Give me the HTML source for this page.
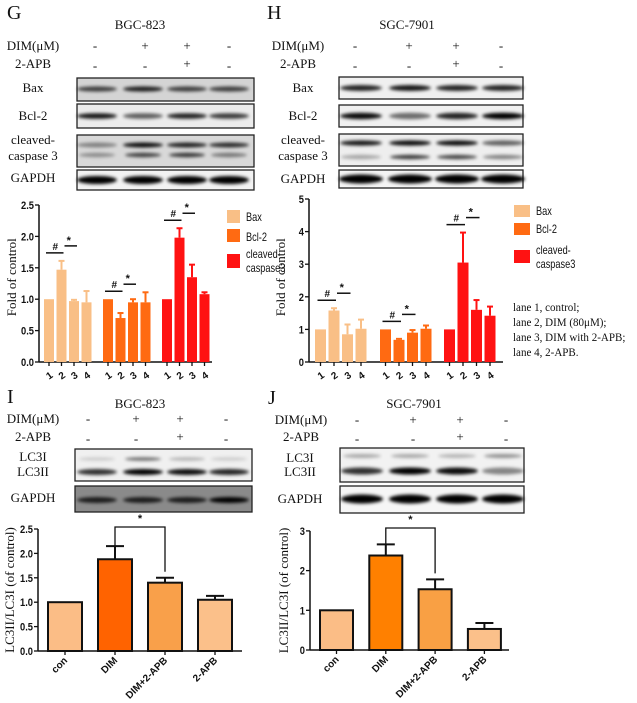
<!DOCTYPE html>
<html><head><meta charset="utf-8">
<style>
html,body{margin:0;padding:0;background:#fff;}
svg{display:block;}
.serif{font-family:"Liberation Serif",serif;}
.sans{font-family:"Liberation Sans",sans-serif;}
</style></head>
<body>
<svg id="fig" width="637" height="703" viewBox="0 0 637 703" xmlns="http://www.w3.org/2000/svg">
<defs>
<filter id="blur" x="-20%" y="-100%" width="140%" height="300%"><feGaussianBlur stdDeviation="1.6"/></filter>
</defs>
</svg>
<script>
// ---------- Chart G (BGC-823) ----------
const gLanes = ["1","2","3","4"];
const gSeries = ["Bax","Bcl-2","cleaved-caspase3"];
const gBax = [1.0, 1.47, 0.97, 0.95];
const gBaxErr = [0, 0.14, 0.02, 0.18];
const gBcl2 = [1.0, 0.70, 0.95, 0.95];
const gBcl2Err = [0, 0.08, 0.05, 0.16];
const gCasp = [1.0, 1.98, 1.35, 1.08];
const gCaspErr = [0, 0.15, 0.20, 0.03];
const gTicks = ["0.0","0.5","1.0","1.5","2.0","2.5"];
// ---------- Chart H (SGC-7901) ----------
const hBax = [1.0, 1.58, 0.85, 1.02];
const hBaxErr = [0, 0.07, 0.30, 0.28];
const hBcl2 = [1.0, 0.68, 0.90, 1.02];
const hBcl2Err = [0, 0.03, 0.08, 0.10];
const hCasp = [1.0, 3.05, 1.60, 1.42];
const hCaspErr = [0, 0.92, 0.30, 0.28];
const hTicks = ["0","1","2","3","4","5"];
// ---------- Chart I / J ----------
const lcCategories = ["con","DIM","DIM+2-APB","2-APB"];
const iValues = [1.0, 1.88, 1.40, 1.05];
const iErr = [0, 0.27, 0.10, 0.08];
const iTicks = ["0.0","0.5","1.0","1.5","2.0","2.5"];
const jValues = [1.0, 2.38, 1.53, 0.53];
const jErr = [0, 0.28, 0.25, 0.15];
const jTicks = ["0","1","2","3"];

const svg = document.getElementById('fig');
const NS = "http://www.w3.org/2000/svg";
function mk(tag, attrs, parent){
  const e = document.createElementNS(NS, tag);
  for (const k in attrs) e.setAttribute(k, attrs[k]);
  (parent||svg).appendChild(e);
  return e;
}
function txt(x,y,s,size,cls,anchor,extra){
  const t = mk('text',{x:x,y:y,'font-size':size,'class':cls,'text-anchor':anchor||'middle',fill:'#111'});
  if(extra) for(const k in extra) t.setAttribute(k,extra[k]);
  t.textContent = s;
  return t;
}

function header(letter, lx, ly, title, tx, ty, labX, dimY, apbY, lanes, dimSigns, apbSigns){
  let t = txt(lx, ly, letter, 20, 'serif', 'start');
  
  
  t = txt(tx, ty, title, 13, 'serif');
  
  
  t = txt(labX, dimY+4, "DIM(\u03bcM)", 13, 'serif');
  
  
  t = txt(labX, apbY+4, "2-APB", 13, 'serif');
  
  
  lanes.forEach((x,i)=>{
    let a = txt(x, dimY+4, dimSigns[i], 13, 'serif');
    
    
    let b = txt(x, apbY+4+(apbSigns[i]=='-'?2:0), apbSigns[i], 13, 'serif');
    
    
  });
}
const signsDim = ["-","+","+","-"], signsApb = ["-","-","+","-"];
header("G", 7, 19, "BGC-823", 140, 29, 33, 46, 64, [95,145,187,229], signsDim, signsApb);
header("H", 267, 19, "SGC-7901", 407, 29, 298, 46, 64, [355,409,456,501], signsDim, signsApb);
header("I", 7, 403, "BGC-823", 140, 408, 33, 419, 437, [88,136,180,226], signsDim, signsApb);
header("J", 268, 404, "SGC-7901", 414, 408, 301, 420, 437, [357,413,460,506], signsDim, signsApb);

function blot(name, x0,y0,x1,y1,bg, bands){
  const g = mk('g',{});
  
  
  mk('rect',{x:x0,y:y0,width:x1-x0,height:y1-y0,fill:bg,stroke:'#222','stroke-width':1.3},g);
  const inner = mk('g',{filter:'url(#blur)'},g);
  bands.forEach(b=>{
    mk('ellipse',{cx:b[0],cy:b[1],rx:b[2],ry:b[3],fill:'#000','fill-opacity':b[4]},inner);
  });
  return g;
}
function rowLabel(x,y,s,name){
  const t = txt(x,y,s,13,'serif');
  
  
}
const gl=[97,143,187,229];
blot('blot-g-bax',77,78,254,101,'#d4d4d4',gl.map((x,i)=>[x,89,20,2.6,[0.7,0.85,0.7,0.7][i]]));
blot('blot-g-bcl2',77,104,254,128,'#ececec',gl.map((x,i)=>[x,116,20,2.8,[0.9,0.6,0.85,0.75][i]]));
blot('blot-g-caspase',77,135,254,167,'#d8d8d8',[].concat(gl.map((x,i)=>[x,145,20,2.5,[0.4,0.95,0.85,0.8][i]]),gl.map((x,i)=>[x,155,18,2.2,[0.35,0.7,0.75,0.45][i]])));
blot('blot-g-gapdh',77,170,254,190,'#f2f2f2',gl.map(x=>[x,180,20,4,1]));
rowLabel(33,92,"Bax",'label-bax-g');
rowLabel(33,120,"Bcl-2",'label-bcl2-g');
rowLabel(33,144,"cleaved-",'label-cleaved-g');
rowLabel(33,160,"caspase 3",'label-caspase3-g');
rowLabel(33,182,"GAPDH",'label-gapdh-g');
const hl=[361,410,457,503];
blot('blot-h-bax',339,77,523,99,'#f0f0f0',hl.map((x,i)=>[x,88,21,3,[0.85,0.9,0.85,0.85][i]]));
blot('blot-h-bcl2',339,105,523,127,'#f0f0f0',hl.map((x,i)=>[x,116,21,3.2,[0.95,0.55,0.85,1][i]]));
blot('blot-h-caspase',339,134,523,166,'#eeeeee',[].concat(hl.map((x,i)=>[x,143,21,2.6,[0.9,0.95,0.95,0.6][i]]),hl.map((x,i)=>[x,157,20,2.2,[0.3,0.75,0.7,0.45][i]])));
blot('blot-h-gapdh',339,170,523,188,'#f4f4f4',hl.map(x=>[x,179,22,4.5,1]));
rowLabel(303,92,"Bax",'label-bax-h');
rowLabel(303,120,"Bcl-2",'label-bcl2-h');
rowLabel(303,144,"cleaved-",'label-cleaved-h');
rowLabel(303,160,"caspase 3",'label-caspase3-h');
rowLabel(303,183,"GAPDH",'label-gapdh-h');
const il=[97,143,187,229];
blot('blot-i-lc3',75,449,252,481,'#f0f0f0',[].concat(il.map((x,i)=>[x,459,18,1.8,[0.15,0.55,0.25,0.15][i]]),il.map((x,i)=>[x,472,20,3,[0.8,1,0.95,0.85][i]])));
blot('blot-i-gapdh',75,486,252,512,'#8a8a8a',il.map((x,i)=>[x,500,20,3,[0.8,0.8,0.8,1][i]]));
rowLabel(33,461,"LC3I",'label-lc3i-i');
rowLabel(33,476,"LC3II",'label-lc3ii-i');
rowLabel(33,502,"GAPDH",'label-gapdh-i');
const jl=[362,410,457,503];
blot('blot-j-lc3',340,448,524,482,'#f2f2f2',[].concat(jl.map((x,i)=>[x,456,19,2,[0.3,0.3,0.25,0.4][i]]),jl.map((x,i)=>[x,471,21,3.5,[0.8,1,0.95,0.45][i]])));
blot('blot-j-gapdh',340,486,524,513,'#f6f6f6',jl.map(x=>[x,499,21,4.5,1]));
rowLabel(300,462,"LC3I",'label-lc3i-j');
rowLabel(300,476,"LC3II",'label-lc3ii-j');
rowLabel(300,503,"GAPDH",'label-gapdh-j');

function grouped(cfg){
  const g = mk('g',{});
  
  
  const y = v => cfg.y0 - v*cfg.scale;
  mk('line',{x1:cfg.ax,y1:y(cfg.ymax),x2:cfg.ax,y2:cfg.y0,stroke:'#111','stroke-width':1.5},g);
  mk('line',{x1:cfg.ax,y1:cfg.y0,x2:cfg.axEnd,y2:cfg.y0,stroke:'#111','stroke-width':1.5},g);
  cfg.ticks.forEach(t=>{
    const v = parseFloat(t);
    mk('line',{x1:cfg.ax-4,y1:y(v),x2:cfg.ax,y2:y(v),stroke:'#111','stroke-width':1.3},g);
    const tt = txt(cfg.ax-5,y(v)+4,t,11,'sans','end',{'font-weight':'bold','transform':'translate('+(cfg.ax-5)+',0) scale(0.85,1) translate('+(-(cfg.ax-5))+',0)'});
    
    
  });
  const yl = txt(0,0,"Fold of control",13,'serif','middle',{transform:'translate('+cfg.ylx+','+y(cfg.ymax/2+0.1)+') rotate(-90)'});
  
  
  cfg.series.forEach((s,si)=>{
    s.vals.forEach((v,i)=>{
      const bx = cfg.groups[si] + i*cfg.pitch;
      const cx = bx + cfg.bw/2;
      const r = mk('rect',{x:bx,y:y(v),width:cfg.bw,height:cfg.y0-y(v),fill:s.color},g);
      
      
      if (s.err[i]>0){
        mk('line',{x1:cx,y1:y(v),x2:cx,y2:y(v+s.err[i]),stroke:s.color,'stroke-width':2},g);
        mk('line',{x1:cx-3,y1:y(v+s.err[i]),x2:cx+3,y2:y(v+s.err[i]),stroke:s.color,'stroke-width':2},g);
      }
      mk('line',{x1:cx,y1:cfg.y0,x2:cx,y2:cfg.y0+4,stroke:'#111','stroke-width':1.3},g);
      const lab = txt(cx,cfg.y0+17,gLanes[i],10,'sans','middle',{'font-weight':'bold',transform:'rotate(-35 '+cx+' '+(cfg.y0+13)+')'});
      
      
    });
    const c1 = cfg.groups[si]+cfg.bw/2, c2=c1+cfg.pitch, c3=c2+cfg.pitch;
    const top2 = y(s.vals[1]+s.err[1]);
    const hy = Math.min(top2, y(s.vals[0])) - 8, sy = hy - 7;
    mk('line',{x1:c1-3,y1:hy,x2:c2+2,y2:hy,stroke:'#111','stroke-width':1.5},g);
    mk('line',{x1:c2+3,y1:sy,x2:c3+3,y2:sy,stroke:'#111','stroke-width':1.5},g);
    const h = txt((c1+c2)/2,hy-3,"#",10,'sans','middle',{'font-weight':'bold'});
    
    
    const st = txt((c2+c3)/2+1,sy-2,"*",11,'sans','middle',{'font-weight':'bold'});
    
    
  });
  cfg.series.forEach((s,si)=>{
    const ly = cfg.legY[si];
    const sw = mk('rect',{x:cfg.legX,y:ly,width:cfg.legW,height:cfg.legH[si],fill:s.color},g);
    
    
    const lines = s.label.split('|');
    lines.forEach((ln,li)=>{
      const lx = cfg.legX+cfg.legW+6;
      const t = txt(lx, cfg.legTextY[si]+li*14, ln, 11.5,'sans','start',{transform:'translate('+lx+',0) scale(0.8,1) translate('+(-lx)+',0)'});
      
      
    });
  });
}
const cBax='#f9bf86', cBcl='#ff6a12', cCas='#ff1212';
grouped({name:'chart-g',ax:39,axEnd:212,y0:362,scale:62.8,ymax:2.5,ticks:gTicks,ylx:16,
  groups:[44,103,162],pitch:12.5,bw:10,
  series:[{key:'bax',vals:gBax,err:gBaxErr,color:cBax,label:'Bax'},
          {key:'bcl2',vals:gBcl2,err:gBcl2Err,color:cBcl,label:'Bcl-2'},
          {key:'caspase3',vals:gCasp,err:gCaspErr,color:cCas,label:'cleaved-|caspase3'}],
  legX:227,legW:13,legY:[210,229,254],legH:[13,13,14],legTextY:[221,241,258]});
grouped({name:'chart-h',ax:309,axEnd:503,y0:362,scale:32.6,ymax:5,ticks:hTicks,ylx:285,
  groups:[315,380,444],pitch:13.5,bw:11,
  series:[{key:'bax',vals:hBax,err:hBaxErr,color:cBax,label:'Bax'},
          {key:'bcl2',vals:hBcl2,err:hBcl2Err,color:cBcl,label:'Bcl-2'},
          {key:'caspase3',vals:hCasp,err:hCaspErr,color:cCas,label:'cleaved-|caspase3'}],
  legX:514,legW:16,legY:[205,223,250],legH:[12,12,13],legTextY:[215,233,254]});
["lane 1, control;","lane 2, DIM (80\u03bcM);","lane 3, DIM with 2-APB;","lane 4, 2-APB."].forEach((s,i)=>{
  const t = txt(513,311+i*15,s,12,'serif','start',{transform:'translate(513,0) scale(0.92,1) translate(-513,0)'});
  
  
});

function simple(cfg){
  const g = mk('g',{});
  
  
  const y = v => cfg.y0 - v*cfg.scale;
  mk('line',{x1:cfg.ax,y1:y(cfg.ymax),x2:cfg.ax,y2:cfg.y0,stroke:'#111','stroke-width':1.5},g);
  mk('line',{x1:cfg.ax,y1:cfg.y0,x2:cfg.axEnd,y2:cfg.y0,stroke:'#111','stroke-width':1.5},g);
  cfg.ticks.forEach(t=>{
    const v=parseFloat(t);
    mk('line',{x1:cfg.ax-4,y1:y(v),x2:cfg.ax,y2:y(v),stroke:'#111','stroke-width':1.3},g);
    const tt = txt(cfg.ax-5,y(v)+4,t,11,'sans','end',{'font-weight':'bold','transform':'translate('+(cfg.ax-5)+',0) scale(0.85,1) translate('+(-(cfg.ax-5))+',0)'});
    
    
  });
  const yl = txt(0,0,"LC3II/LC3I (of control)",13,'serif','middle',{transform:'translate('+cfg.ylx+','+((cfg.y0+y(cfg.ymax))/2)+') rotate(-90)'});
  
  
  const centers=[];
  cfg.vals.forEach((v,i)=>{
    const bx = cfg.x0 + i*cfg.pitch, cx = bx+cfg.bw/2;
    centers.push(cx);
    if (cfg.err[i]>0){
      mk('line',{x1:cx,y1:y(v),x2:cx,y2:y(v+cfg.err[i]),stroke:'#111','stroke-width':2},g);
      mk('line',{x1:cx-9,y1:y(v+cfg.err[i]),x2:cx+9,y2:y(v+cfg.err[i]),stroke:'#111','stroke-width':2},g);
    }
    const r = mk('rect',{x:bx,y:y(v),width:cfg.bw,height:cfg.y0-y(v),fill:cfg.colors[i],stroke:'#111','stroke-width':2},g);
    
    
    mk('line',{x1:cx,y1:cfg.y0,x2:cx,y2:cfg.y0+4,stroke:'#111','stroke-width':1.3},g);
    const lab = txt(cx+3,cfg.y0+10,lcCategories[i],10,'sans','end',{'font-weight':'bold',transform:'rotate(-45 '+(cx+3)+' '+(cfg.y0+10)+')'});
    
    
  });
  const b = mk('polyline',{points:centers[1]+','+y(cfg.vals[1]+cfg.err[1])+' '+centers[1]+','+cfg.brTop+' '+centers[2]+','+cfg.brTop+' '+centers[2]+','+(y(cfg.vals[2]+cfg.err[2])-6),fill:'none',stroke:'#111','stroke-width':1.3},g);
  
  
  const st = txt((centers[1]+centers[2])/2,cfg.brTop-5,"*",11,'sans','middle',{'font-weight':'bold'});
  
  
}
simple({name:'chart-i',ax:38,axEnd:242,y0:651,scale:48.8,ymax:2.5,ticks:iTicks,ylx:14,
  x0:48,pitch:50,bw:34,vals:iValues,err:iErr,brTop:527,
  colors:['#fbbd86','#ff6300','#f9a04a','#fbc08a']});
simple({name:'chart-j',ax:310,axEnd:509,y0:650,scale:39.7,ymax:3,ticks:jTicks,ylx:288,
  x0:320,pitch:49.3,bw:33,vals:jValues,err:jErr,brTop:528,
  colors:['#fbbd86','#ff8000','#f9a044','#fbc08a']});
</script>
</body></html>
